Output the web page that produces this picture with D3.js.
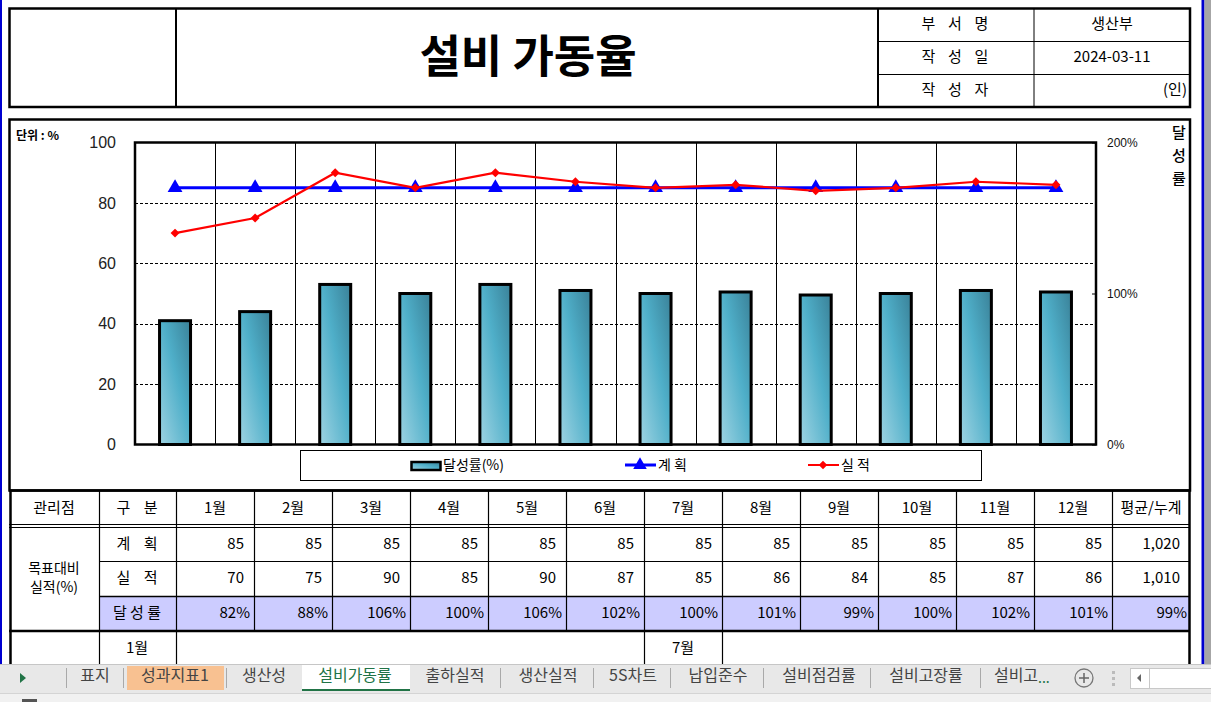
<!DOCTYPE html>
<html><head><meta charset="utf-8">
<script src="https://cdn.jsdelivr.net/npm/d3@7"></script>
<style>
html,body{margin:0;padding:0;background:#fff;overflow:hidden}
text{font-family:"Noto Sans CJK KR","Noto Sans",sans-serif}
</style></head>
<body><svg id="c" width="1211" height="702"></svg>
<script>
// ---- data ----
const months = ["1월","2월","3월","4월","5월","6월","7월","8월","9월","10월","11월","12월"];
const planVals = [85,85,85,85,85,85,85,85,85,85,85,85];
const actualVals = [70,75,90,85,90,87,85,86,84,85,87,86];
const rateVals = [82,88,106,100,106,102,100,101,99,100,102,101];
const planTotal = "1,020";
const actualTotal = "1,010";
const rateAvg = "99%";
const leftTicks = [0,20,40,60,80,100];
const rightTicks = [0,100,200];
const headerInfo = [["부  서  명","생산부"],["작  성  일","2024-03-11"],["작  성  자","(인)"]];
const tabs = ["표지","성과지표1","생산성","설비가동률","출하실적","생산실적","5S차트","납입준수","설비점검률","설비고장률","설비고"];

const svg = d3.select("#c");
const KR = '"Noto Sans CJK KR","Noto Sans",sans-serif';
const AR = '"Liberation Sans",Arial,sans-serif';

// side frame lines
svg.append("rect").attr("x",0).attr("y",0).attr("width",2).attr("height",664).attr("fill","#0000d0");
svg.append("rect").attr("x",1201.5).attr("y",0).attr("width",3).attr("height",664).attr("fill","#0000d0");
svg.append("rect").attr("x",1204.5).attr("y",0).attr("width",7).attr("height",664).attr("fill","#a6a6a6");

// ---- header ----
const H = svg.append("g");
H.append("rect").attr("x",9.5).attr("y",8.5).attr("width",1180.5).attr("height",98.5).attr("fill","none").attr("stroke","#000").attr("stroke-width",2.5);
H.append("line").attr("x1",176).attr("x2",176).attr("y1",8).attr("y2",107).attr("stroke","#000").attr("stroke-width",2);
H.append("line").attr("x1",878).attr("x2",878).attr("y1",8).attr("y2",107).attr("stroke","#000").attr("stroke-width",2);
H.append("line").attr("x1",1034).attr("x2",1034).attr("y1",8).attr("y2",107).attr("stroke","#000").attr("stroke-width",1);
[41,74].forEach(y=>H.append("line").attr("x1",878).attr("x2",1190).attr("y1",y+0.5).attr("y2",y+0.5).attr("stroke","#000").attr("stroke-width",1));
H.append("text").attr("x",528).attr("y",61).attr("text-anchor","middle").attr("dominant-baseline","middle")
 .style("font-family",KR).style("font-weight",700).style("font-size","45px").attr("fill","#000").text("설비 가동율");
headerInfo.forEach((r,i)=>{
  const cy = 25 + i*33;
  H.append("text").attr("x",956).attr("y",cy).attr("text-anchor","middle").attr("dominant-baseline","middle")
   .style("font-size","15px").style("letter-spacing","2px").attr("fill","#000").attr("xml:space","preserve").text(r[0]);
  if(i<2) H.append("text").attr("x",1112).attr("y",cy).attr("text-anchor","middle").attr("dominant-baseline","middle")
   .style("font-size","15px").attr("fill","#000").text(r[1]);
  else H.append("text").attr("x",1187).attr("y",cy).attr("text-anchor","end").attr("dominant-baseline","middle")
   .style("font-size","15px").attr("fill","#000").text(r[1]);
});

// ---- chart box ----
svg.append("rect").attr("x",9.5).attr("y",119.5).attr("width",1180.5).attr("height",371).attr("fill","none").attr("stroke","#000").attr("stroke-width",2.5);
svg.append("text").attr("x",16).attr("y",137).attr("dominant-baseline","middle").attr("xml:space","preserve")
 .style("font-size","12px").style("font-weight",700).text("단위 : %");
["달","성","률"].forEach((c,i)=>svg.append("text").attr("x",1179).attr("y",134+i*23).attr("text-anchor","middle").attr("dominant-baseline","middle")
 .style("font-size","15px").style("font-weight",500).text(c));

const P = {l:135,r:1096,t:142.5,b:444.5};
const x = d3.scaleBand().domain(months).range([P.l,P.r]).padding(0);
const yL = d3.scaleLinear().domain([0,100]).range([P.b,P.t]);
const yR = d3.scaleLinear().domain([0,200]).range([P.b,P.t]);

const defs = svg.append("defs");
const gr = defs.append("linearGradient").attr("id","barg").attr("x1",0).attr("y1",1).attr("x2",1).attr("y2",0);
gr.append("stop").attr("offset","0%").attr("stop-color","#9ed3e2");
gr.append("stop").attr("offset","55%").attr("stop-color","#4fafc9");
gr.append("stop").attr("offset","100%").attr("stop-color","#3a8198");

const G = svg.append("g");
// grid
G.selectAll(".hg").data(leftTicks.filter(d=>d>0&&d<100)).join("line")
 .attr("x1",P.l).attr("x2",P.r).attr("y1",d=>Math.round(yL(d))+0.5).attr("y2",d=>Math.round(yL(d))+0.5)
 .attr("stroke","#000").attr("stroke-width",1).attr("stroke-dasharray","3,2");
G.selectAll(".vg").data(months.slice(1)).join("line")
 .attr("x1",d=>Math.round(x(d))+0.5).attr("x2",d=>Math.round(x(d))+0.5).attr("y1",P.t).attr("y2",P.b)
 .attr("stroke","#000").attr("stroke-width",1);

// bars (rate on right axis)
const bw = 31;
G.selectAll(".bar").data(rateVals).join("rect")
 .attr("x",(d,i)=>x(months[i])+x.bandwidth()/2-bw/2)
 .attr("y",d=>yR(d)).attr("width",bw).attr("height",d=>P.b-yR(d))
 .attr("fill","url(#barg)").attr("stroke","#000").attr("stroke-width",3);

// plot border
G.append("rect").attr("x",P.l).attr("y",P.t).attr("width",P.r-P.l).attr("height",P.b-P.t).attr("fill","none").attr("stroke","#000").attr("stroke-width",2.5);

// axes
const axL = svg.append("g").attr("transform",`translate(${P.l},0)`).call(d3.axisLeft(yL).tickValues(leftTicks).tickSize(0).tickPadding(19));
axL.select(".domain").remove();
axL.selectAll("text").style("font-family",AR).style("font-size","16px").attr("fill","#222");
const axR = svg.append("g").attr("transform",`translate(${P.r},0)`).call(d3.axisRight(yR).tickValues(rightTicks).tickSize(-4).tickPadding(11).tickFormat(d=>d+"%"));
axR.select(".domain").remove();
axR.selectAll("line").attr("stroke","#000");
axR.selectAll("text").style("font-family",AR).style("font-size","12px").attr("fill","#111");

// lines
const cx = i=>x(months[i])+x.bandwidth()/2;
const line = d3.line().x((d,i)=>cx(i)).y(d=>yL(d));
G.append("path").datum(planVals).attr("d",line).attr("fill","none").attr("stroke","#0000ff").attr("stroke-width",3);
G.selectAll(".tri").data(planVals).join("path")
 .attr("d",d3.symbol(d3.symbolTriangle,95)).attr("transform",(d,i)=>`translate(${cx(i)},${yL(d)})`).attr("fill","#0000ff");
G.append("path").datum(actualVals).attr("d",line).attr("fill","none").attr("stroke","#ff0000").attr("stroke-width",2.2);
G.selectAll(".dia").data(actualVals).join("path")
 .attr("d",d3.symbol(d3.symbolSquare,40)).attr("transform",(d,i)=>`translate(${cx(i)},${yL(d)}) rotate(45)`).attr("fill","#ff0000");

// legend
const L = svg.append("g");
L.append("rect").attr("x",300.5).attr("y",450.5).attr("width",681).attr("height",30).attr("fill","#fff").attr("stroke","#000").attr("stroke-width",1);
L.append("rect").attr("x",411.5).attr("y",462).attr("width",29).attr("height",8).attr("fill","url(#barg)").attr("stroke","#000").attr("stroke-width",2.5);
L.append("text").attr("x",443).attr("y",466).attr("dominant-baseline","middle").style("font-size","14px").text("달성률(%)");
L.append("line").attr("x1",625).attr("x2",656).attr("y1",465).attr("y2",465).attr("stroke","#0000ff").attr("stroke-width",3);
L.append("path").attr("d",d3.symbol(d3.symbolTriangle,80)).attr("transform","translate(640,465)").attr("fill","#0000ff");
L.append("text").attr("x",658).attr("y",466).attr("dominant-baseline","middle").style("font-size","14px").attr("xml:space","preserve").text("계 획");
L.append("line").attr("x1",808).attr("x2",839).attr("y1",465).attr("y2",465).attr("stroke","#ff0000").attr("stroke-width",2);
L.append("path").attr("d",d3.symbol(d3.symbolSquare,36)).attr("transform","translate(823,465) rotate(45)").attr("fill","#ff0000");
L.append("text").attr("x",841).attr("y",466).attr("dominant-baseline","middle").style("font-size","14px").attr("xml:space","preserve").text("실 적");

// ---- table ----
const T = svg.append("g");
const tcols = months.concat(["평균/누계"]);
const tx = d3.scaleBand().domain(tcols).range([176,1190]).padding(0);
T.append("rect").attr("x",99).attr("y",596).attr("width",1091).attr("height",35).attr("fill","#ccccff");
// verticals
const vx = [99,176].concat(tcols.slice(1).map(c=>tx(c)));
T.selectAll(".tv").data(vx).join("line").attr("x1",d=>Math.round(d)+0.5).attr("x2",d=>Math.round(d)+0.5).attr("y1",490).attr("y2",631).attr("stroke","#000").attr("stroke-width",1.2);
// horizontals
T.append("line").attr("x1",9).attr("x2",1190).attr("y1",490.5).attr("y2",490.5).attr("stroke","#000").attr("stroke-width",2.5);
T.append("line").attr("x1",9).attr("x2",1190).attr("y1",524.5).attr("y2",524.5).attr("stroke","#000").attr("stroke-width",1);
T.append("line").attr("x1",9).attr("x2",1190).attr("y1",527.5).attr("y2",527.5).attr("stroke","#000").attr("stroke-width",1);
T.append("line").attr("x1",99).attr("x2",1190).attr("y1",561.5).attr("y2",561.5).attr("stroke","#000").attr("stroke-width",1);
T.append("line").attr("x1",99).attr("x2",1190).attr("y1",596.5).attr("y2",596.5).attr("stroke","#000").attr("stroke-width",1.5);
T.append("line").attr("x1",9).attr("x2",1190).attr("y1",631).attr("y2",631).attr("stroke","#000").attr("stroke-width",2.5);
// outer borders
T.append("line").attr("x1",10.5).attr("x2",10.5).attr("y1",490).attr("y2",664).attr("stroke","#000").attr("stroke-width",2.5);
T.append("line").attr("x1",1189.5).attr("x2",1189.5).attr("y1",490).attr("y2",664).attr("stroke","#000").attr("stroke-width",2.5);
// lower row verticals
[99,176,644,722].forEach(v=>T.append("line").attr("x1",v+0.5).attr("x2",v+0.5).attr("y1",631).attr("y2",664).attr("stroke","#000").attr("stroke-width",1.2));

const txt = (x0,y0,s,anchor,fs)=>T.append("text").attr("x",x0).attr("y",y0).attr("text-anchor",anchor||"middle").attr("dominant-baseline","middle")
  .attr("xml:space","preserve").style("font-size",(fs||15)+"px").attr("fill","#000").text(s);
txt(54,509,"관리점");
txt(137,509,"구    분");
tcols.forEach(c=>txt(tx(c)+tx.bandwidth()/2,509,c));
txt(54,569,"목표대비","middle",14);
txt(54,588,"실적(%)","middle",14);
txt(137,545,"계    획");
txt(137,579,"실    적");
txt(137,614,"달 성 률");
planVals.forEach((v,i)=>txt(tx(months[i])+tx.bandwidth()-10,545,String(v),"end"));
actualVals.forEach((v,i)=>txt(tx(months[i])+tx.bandwidth()-10,579,String(v),"end"));
rateVals.forEach((v,i)=>txt(tx(months[i])+tx.bandwidth()-4,614,v+"%","end"));
txt(1180,545,planTotal,"end");
txt(1180,579,actualTotal,"end");
txt(1187,614,rateAvg,"end");
txt(137,649,months[0]);
txt(683,649,months[6]);

// ---- sheet tabs ----
const S = svg.append("g");
S.append("rect").attr("x",0).attr("y",664).attr("width",1211).attr("height",29).attr("fill","#e8e8e8");
S.append("rect").attr("x",0).attr("y",693).attr("width",1211).attr("height",9).attr("fill","#f1f1f1");
S.append("line").attr("x1",0).attr("x2",1211).attr("y1",664.5).attr("y2",664.5).attr("stroke","#c6c6c6");
S.append("line").attr("x1",0).attr("x2",1211).attr("y1",693.5).attr("y2",693.5).attr("stroke","#d4d4d4");
S.append("path").attr("d","M20,673 L26,678 L20,683 Z").attr("fill","#217346");
S.append("rect").attr("x",127).attr("y",666).attr("width",97).attr("height",24).attr("fill","#f8c191");
S.append("rect").attr("x",302).attr("y",665).attr("width",108).attr("height",25).attr("fill","#fff");
S.append("rect").attr("x",302).attr("y",689).attr("width",108).attr("height",2).attr("fill","#217346");
const tabCx = [95,175,264,355,455,548,633,718,819,926,1016];
const seps = [66,123,226,500,593,670,763,870,980];
seps.forEach(s=>S.append("line").attr("x1",s+0.5).attr("x2",s+0.5).attr("y1",668).attr("y2",688).attr("stroke","#a9a9a9"));
tabs.forEach((t,i)=>S.append("text").attr("x",tabCx[i]).attr("y",677).attr("text-anchor","middle").attr("dominant-baseline","middle")
  .style("font-size","16px").attr("fill",i===3?"#217346":"#444").text(t));
S.append("text").attr("x",1038).attr("y",679).attr("dominant-baseline","middle").style("font-size","14px").attr("fill","#217346").text("...");
S.append("circle").attr("cx",1084).attr("cy",678).attr("r",9).attr("fill","none").attr("stroke","#777").attr("stroke-width",1.3);
S.append("line").attr("x1",1079).attr("x2",1089).attr("y1",678).attr("y2",678).attr("stroke","#666").attr("stroke-width",1.5);
S.append("line").attr("x1",1084).attr("x2",1084).attr("y1",673).attr("y2",683).attr("stroke","#666").attr("stroke-width",1.5);
[671,677,683].forEach(y=>S.append("rect").attr("x",1112).attr("y",y).attr("width",3).attr("height",3).attr("fill","#bbb"));
S.append("rect").attr("x",1130.5).attr("y",668.5).attr("width",81).attr("height",20).attr("fill","#fff").attr("stroke","#c8c8c8");
S.append("line").attr("x1",1149.5).attr("x2",1149.5).attr("y1",668).attr("y2",689).attr("stroke","#c8c8c8");
S.append("path").attr("d","M1137,678 L1141,674 L1141,682 Z").attr("fill","#666");
S.append("rect").attr("x",22).attr("y",699).attr("width",15).attr("height",3).attr("fill","#555");
</script></body></html>
